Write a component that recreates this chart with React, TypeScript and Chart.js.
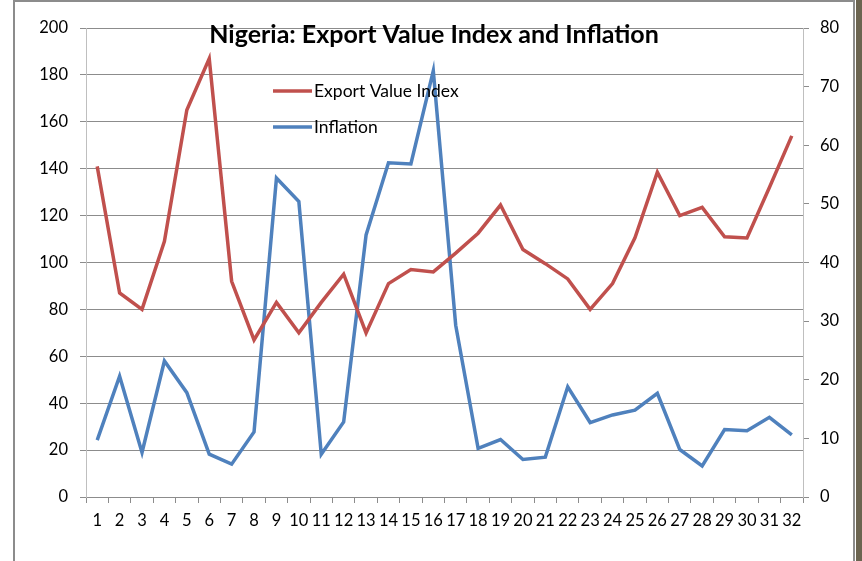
import React, { useEffect, useRef } from "react";
import { Chart, registerables } from "chart.js";

Chart.register(...registerables);

const categories = Array.from({ length: 32 }, (_, i) => String(i + 1));
const exportValueIndex = [141, 87, 80, 109, 165, 187, 92, 67, 83, 70, 83, 95, 70, 91, 97, 96, 104, 112.5, 124.5, 105.5, 99.5, 93, 80, 91, 110.5, 138.5, 120, 123.5, 111, 110.5, 132, 154];
const inflation = [9.7, 20.6, 7.6, 23.2, 17.8, 7.3, 5.6, 11.1, 54.4, 50.4, 7.3, 12.8, 44.7, 57.0, 56.8, 72.7, 29.3, 8.3, 9.8, 6.4, 6.8, 18.8, 12.7, 14.0, 14.8, 17.7, 8.1, 5.3, 11.5, 11.3, 13.6, 10.6];
const leftTicks = [0, 20, 40, 60, 80, 100, 120, 140, 160, 180, 200];
const rightTicks = [0, 10, 20, 30, 40, 50, 60, 70, 80];
const titleText = "Nigeria: Export Value Index and Inflation";
const seriesNames = ["Export Value Index", "Inflation"];
const RED = "#C0504D";
const BLUE = "#4F81BD";
const FONT = "Lato, 'Open Sans', sans-serif";

const framePlugin = {
  id: "frame",
  beforeDraw(chart: any) {
    const { ctx, width, height } = chart;
    ctx.save();
    ctx.fillStyle = "#ffffff";
    ctx.fillRect(0, 0, width, height);
    ctx.strokeStyle = "#8c8c8c";
    ctx.lineWidth = 2;
    ctx.beginPath();
    ctx.moveTo(14, height + 2);
    ctx.lineTo(14, 1);
    ctx.lineTo(854, 1);
    ctx.lineTo(854, height + 2);
    ctx.stroke();
    ctx.fillStyle = "#6b6450";
    ctx.fillRect(856, 0, width - 856, height);
    ctx.restore();
  },
  afterDatasetsDraw(chart: any) {
    const { ctx } = chart;
    ctx.save();
    ctx.fillStyle = "#000000";
    ctx.font = `bold 25px ${FONT}`;
    ctx.textAlign = "center";
    ctx.textBaseline = "middle";
    ctx.fillText(titleText, 434, 35);
    const items = [
      { label: seriesNames[0], color: RED, y: 91 },
      { label: seriesNames[1], color: BLUE, y: 127 },
    ];
    ctx.font = `17.5px ${FONT}`;
    ctx.textAlign = "left";
    items.forEach((it) => {
      ctx.strokeStyle = it.color;
      ctx.lineWidth = 3.5;
      ctx.beginPath();
      ctx.moveTo(273, it.y);
      ctx.lineTo(312, it.y);
      ctx.stroke();
      ctx.fillStyle = "#000000";
      ctx.fillText(it.label, 314, it.y);
    });
    ctx.restore();
  },
};

export default function App() {
  const ref = useRef<HTMLCanvasElement>(null);
  useEffect(() => {
    if (!ref.current) return;
    const chart = new Chart(ref.current, {
      type: "line",
      data: {
        labels: categories,
        datasets: [
          {
            label: seriesNames[0],
            data: exportValueIndex,
            borderColor: RED,
            backgroundColor: RED,
            borderWidth: 3.5,
            pointRadius: 0,
            tension: 0,
            yAxisID: "y",
          },
          {
            label: seriesNames[1],
            data: inflation,
            borderColor: BLUE,
            backgroundColor: BLUE,
            borderWidth: 3.5,
            pointRadius: 0,
            tension: 0,
            yAxisID: "y1",
          },
        ],
      },
      options: {
        animation: false,
        responsive: false,
        devicePixelRatio: 1,
        layout: { padding: { top: 28, left: 0, right: 0, bottom: 0 } },
        plugins: { legend: { display: false }, title: { display: false }, tooltip: { enabled: false } },
        scales: {
          x: {
            offset: true,
            grid: { drawOnChartArea: false, drawTicks: true, tickLength: 6, offset: true, color: "#8c8c8c" },
            border: { color: "#8c8c8c" },
            ticks: { autoSkip: false, maxRotation: 0, minRotation: 0, padding: 8, color: "#000", font: { family: FONT, size: 16.5 } },
            afterFit(scale: any) { scale.height = 64; },
          },
          y: {
            position: "left",
            min: 0,
            max: 200,
            afterBuildTicks(scale: any) { scale.ticks = leftTicks.map((v) => ({ value: v })); },
            grid: { color: "#8c8c8c", tickLength: 6 },
            border: { color: "#bfbfbf" },
            ticks: { padding: 12, color: "#000", font: { family: FONT, size: 16.5 } },
            afterFit(scale: any) { scale.width = 86; },
          },
          y1: {
            position: "right",
            min: 0,
            max: 80,
            afterBuildTicks(scale: any) { scale.ticks = rightTicks.map((v) => ({ value: v })); },
            grid: { drawOnChartArea: false, color: "#8c8c8c", tickLength: 6 },
            border: { color: "#bfbfbf" },
            ticks: { padding: 11, color: "#000", font: { family: FONT, size: 16.5 } },
            afterFit(scale: any) { scale.width = 59; },
          },
        },
      },
      plugins: [framePlugin],
    });
    return () => chart.destroy();
  }, []);
  return (
    <div style={{ position: "absolute", left: 0, top: 0, width: 862, height: 561 }}>
      <canvas ref={ref} width={862} height={561} style={{ width: 862, height: 561 }} />
    </div>
  );
}
